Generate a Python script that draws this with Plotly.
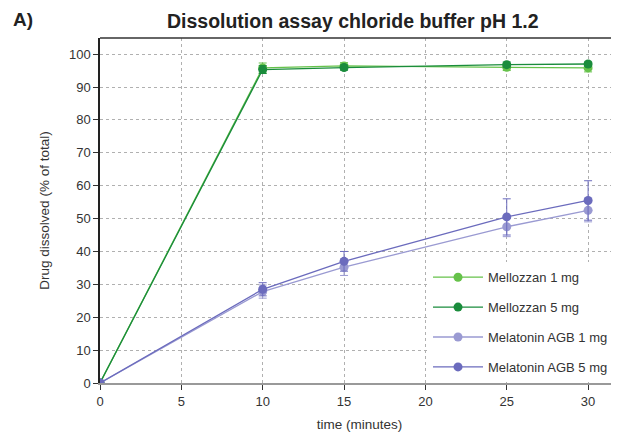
import plotly.graph_objects as go

time_min = [0, 10, 15, 25, 30]
mellozzan_1mg = [0, 95.8, 96.4, 96.0, 95.8]
mellozzan_1mg_err = [0, 1.5, 1.0, 1.0, 1.2]
mellozzan_5mg = [0, 95.3, 95.9, 96.8, 97.0]
mellozzan_5mg_err = [0, 1.2, 0.8, 0.8, 0.6]
agb_1mg = [0, 27.8, 35.2, 47.5, 52.5]
agb_1mg_err = [0, 2.0, 2.5, 3.0, 3.5]
agb_5mg = [0, 28.5, 37.0, 50.5, 55.5]
agb_5mg_err = [0, 2.0, 3.0, 5.5, 6.0]

series = [
    ("Mellozzan 1 mg", mellozzan_1mg, mellozzan_1mg_err, "#66c24a"),
    ("Mellozzan 5 mg", mellozzan_5mg, mellozzan_5mg_err, "#1a8c3c"),
    ("Melatonin AGB 1 mg", agb_1mg, agb_1mg_err, "#9a9ad2"),
    ("Melatonin AGB 5 mg", agb_5mg, agb_5mg_err, "#6b6bbd"),
]

fig = go.Figure()
for i, (name, y, err, col) in enumerate(series):
    fig.add_trace(go.Scatter(
        x=time_min, y=y, name=name, mode="lines+markers", legendgroup=f"g{i}",
        line=dict(color=col, width=1.3),
        marker=dict(color=col, size=9),
        error_y=dict(type="data", array=err, color=col, thickness=1, width=4),
    ))

fig.update_layout(
    width=619, height=439,
    margin=dict(l=92, r=8, t=30, b=64, autoexpand=False),
    paper_bgcolor="white", plot_bgcolor="white",
    font=dict(family="Liberation Sans, Arial, sans-serif", color="#333333", size=12),
    title=dict(text="<b>Dissolution assay chloride buffer pH 1.2</b>", x=0.557, xanchor="center",
               y=0.970, yanchor="middle",
               font=dict(family="Liberation Sans, Arial, sans-serif", size=19.5, color="#222222")),
    showlegend=True,
    legend=dict(x=0.632, xanchor="left", y=0.35, yanchor="top", bgcolor="rgba(255,255,255,1)",
                font=dict(size=13, color="#333333"), tracegroupgap=10, itemwidth=50),
    annotations=[dict(text="<b>A)</b>", xref="paper", yref="paper", x=-0.172, y=1.054,
                      xanchor="left", yanchor="middle", showarrow=False,
                      font=dict(size=19, color="#222222"))],
)
fig.update_xaxes(
    range=[0, 31.9], tickvals=[0, 5, 10, 15, 20, 25, 30], automargin=False,
    showgrid=True, gridcolor="#b0b0b0", griddash="3px,3px", gridwidth=1,
    showline=True, linecolor="#999999", linewidth=2,
    ticks="outside", ticklen=5, tickcolor="#333333",
    zeroline=False, mirror=False,
    title=dict(text="time (minutes)", font=dict(size=13.5), standoff=12),
    tickfont=dict(size=13),
)
fig.update_yaxes(
    range=[0, 104.9], tickvals=list(range(0, 101, 10)), automargin=False,
    showgrid=True, gridcolor="#b0b0b0", griddash="3px,3px", gridwidth=1,
    showline=True, linecolor="#222222", linewidth=1.5,
    ticks="outside", ticklen=5, tickcolor="#333333",
    zeroline=False,
    title=dict(text="Drug dissolved (% of total)", font=dict(size=13.5), standoff=16),
    tickfont=dict(size=13),
)
# top border
fig.add_shape(type="line", xref="paper", yref="paper", x0=0, x1=1, y0=1, y1=1,
              line=dict(color="#333333", width=1.5))

fig.write_html("out.html")
